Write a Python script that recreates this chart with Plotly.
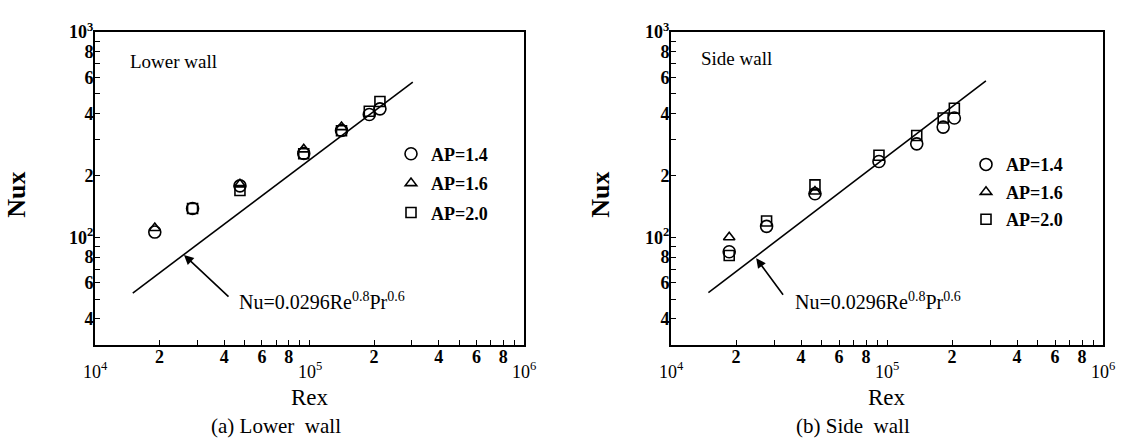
import math
import plotly.graph_objects as go

# ---------------- data ----------------
# (a) Lower wall
low_re_14 = [1.90e4, 2.85e4, 4.74e4, 9.40e4, 1.41e5, 1.90e5, 2.13e5]
low_nu_14 = [106, 138, 178, 256, 331, 396, 422]
low_re_16 = [1.90e4, 4.74e4, 9.40e4, 1.41e5]
low_nu_16 = [111, 181, 268, 344]
low_re_20 = [2.85e4, 4.74e4, 9.40e4, 1.41e5, 1.90e5, 2.13e5]
low_nu_20 = [138, 169, 255, 330, 411, 458]
low_line_re = [1.50e4, 3.03e5]
low_line_nu = [53.5, 570]

# (b) Side wall
side_re_14 = [1.86e4, 2.77e4, 4.64e4, 9.18e4, 1.373e5, 1.82e5, 2.05e5]
side_nu_14 = [85, 113, 163, 234, 285, 344, 381]
side_re_16 = [1.86e4, 4.64e4]
side_nu_16 = [100, 167]
side_re_20 = [1.86e4, 2.77e4, 4.64e4, 9.18e4, 1.373e5, 1.82e5, 2.05e5]
side_nu_20 = [81.5, 120, 180, 251, 313, 381, 425]
side_line_re = [1.49e4, 2.87e5]
side_line_nu = [53.7, 577]

legend_labels = ["AP=1.4", "AP=1.6", "AP=2.0"]
panel_titles = ["Lower wall", "Side wall"]
captions = ["(a) Lower  wall", "(b) Side  wall"]
formula = "Nu=0.0296Re<sup>0.8</sup>Pr<sup>0.6</sup>"

x_tickvals = [1e4, 2e4, 4e4, 6e4, 8e4, 1e5, 2e5, 4e5, 6e5, 8e5, 1e6]
x_ticktext = ["", "2", "4", "6", "8", "", "2", "4", "6", "8", ""]
x_minor = [3e4, 5e4, 7e4, 9e4, 3e5, 5e5, 7e5, 9e5]
x_decades = [1e4, 1e5, 1e6]
x_decade_text = ["10<sup>4</sup>", "10<sup>5</sup>", "10<sup>6</sup>"]
y_tickvals = [40, 60, 80, 100, 200, 400, 600, 800, 1000]
y_ticktext = ["4", "6", "8", "10<sup>2</sup>", "2", "4", "6", "8", "10<sup>3</sup>"]
y_minor = [50, 70, 90, 300, 500, 700, 900]

# annotation anchors (data values)
title_pos = [(1.43e4, 721), (1.35e4, 746)]
formula_pos = [(4.59e4, 49.2), (3.67e4, 49.2)]
arrow_tip = [(2.6e4, 82), (2.48e4, 79)]
arrow_tail_px = [(46, 43), (28, 38)]

SERIF = "Liberation Serif"
W, H = 1128, 439
L = math.log10

fig = go.Figure()

panels = [
    dict(xa="x", ya="y", leg="legend",
         s=[(low_re_14, low_nu_14), (low_re_16, low_nu_16), (low_re_20, low_nu_20)],
         line=(low_line_re, low_line_nu)),
    dict(xa="x2", ya="y2", leg="legend2",
         s=[(side_re_14, side_nu_14), (side_re_16, side_nu_16), (side_re_20, side_nu_20)],
         line=(side_line_re, side_line_nu)),
]
symbols = ["circle-open", "triangle-up-open", "square-open"]
sizes = [12, 10, 10]

for p in panels:
    fig.add_trace(go.Scatter(x=p["line"][0], y=p["line"][1], mode="lines",
                             line=dict(color="black", width=1.6),
                             xaxis=p["xa"], yaxis=p["ya"], showlegend=False,
                             hoverinfo="skip"))
    for k, (xs, ys) in enumerate(p["s"]):
        fig.add_trace(go.Scatter(x=xs, y=ys, mode="markers", name=legend_labels[k],
                                 marker=dict(symbol=symbols[k], size=sizes[k], color="black",
                                             line=dict(color="black", width=1.6)),
                                 xaxis=p["xa"], yaxis=p["ya"], legend=p["leg"],
                                 legendgroup=p["leg"] + str(k)))

xdom = [[95 / W, 524 / W], [671 / W, 1103 / W]]
ydom = [1 - 342 / H, 1 - 20.5 / H]

axis_common = dict(type="log", showgrid=False, zeroline=False, showline=True,
                   linecolor="black", linewidth=2, mirror=True, ticks="inside",
                   ticklen=5, tickwidth=1.3, tickcolor="black",
                   tickfont=dict(family=SERIF, size=18, color="black", weight="bold"))

for i, suf in enumerate(["", "2"]):
    fig.layout["xaxis" + suf] = dict(axis_common, domain=xdom[i], range=[4, 6],
                                      tickmode="array", tickvals=x_tickvals, ticktext=x_ticktext,
                                      minor=dict(tickmode="array", tickvals=x_minor, ticks="inside",
                                                 ticklen=5, tickcolor="black", tickwidth=1.3),
                                      ticklabelstandoff=-5,
                                      anchor="y" + suf)
    fig.layout["yaxis" + suf] = dict(axis_common, domain=ydom, range=[1.477, 3],
                                      tickmode="array", tickvals=y_tickvals, ticktext=y_ticktext,
                                      minor=dict(tickmode="array", tickvals=y_minor, ticks="inside",
                                                 ticklen=5, tickcolor="black", tickwidth=1.3),
                                      ticklabelstandoff=-4,
                                      anchor="x" + suf)

nux_offset = [78, 70]
ann = []
for i, suf in enumerate(["", "2"]):
    xr, yr = "x" + suf, "y" + suf
    for dv, dt in zip(x_decades, x_decade_text):
        ann.append(dict(x=L(dv), y=1 - 369 / H, xref=xr, yref="paper", text=dt, showarrow=False,
                        xanchor="center", yanchor="middle",
                        font=dict(family=SERIF, size=18, color="black")))
    ann.append(dict(x=L(title_pos[i][0]), y=L(title_pos[i][1]), xref=xr, yref=yr,
                    text=panel_titles[i], showarrow=False, xanchor="left", yanchor="middle",
                    font=dict(family=SERIF, size=19, color="black")))
    tx, ty = arrow_tip[i]
    ax, ay = arrow_tail_px[i]
    ann.append(dict(x=L(tx), y=L(ty), xref=xr, yref=yr, text="", showarrow=True, ax=ax, ay=ay,
                    arrowhead=2, arrowsize=1.2, arrowwidth=1.6, arrowcolor="black", standoff=0))
    ann.append(dict(x=L(formula_pos[i][0]), y=L(formula_pos[i][1]), xref=xr, yref=yr,
                    text=formula, showarrow=False, xanchor="left", yanchor="middle",
                    font=dict(family=SERIF, size=20, color="black")))
    xc = (xdom[i][0] + xdom[i][1]) / 2
    ann.append(dict(x=xc, y=1 - 396 / H, xref="paper", yref="paper", text="Rex", showarrow=False,
                    xanchor="center", yanchor="middle",
                    font=dict(family=SERIF, size=23, color="black")))
    ann.append(dict(x=xc - 0.03, y=1 - 426 / H, xref="paper", yref="paper", text=captions[i],
                    showarrow=False, xanchor="center", yanchor="middle",
                    font=dict(family=SERIF, size=21, color="black")))
    ann.append(dict(x=(xdom[i][0] * W - nux_offset[i]) / W, y=1 - 188 / H, xref="paper",
                    yref="paper", text="Nux", textangle=-90, showarrow=False,
                    xanchor="center", yanchor="middle",
                    font=dict(family=SERIF, size=26, color="black", weight="bold")))

legend_common = dict(font=dict(family=SERIF, size=18, color="black", weight="bold"),
                     bgcolor="rgba(0,0,0,0)", itemsizing="trace",
                     xanchor="left", yanchor="top")
fig.update_layout(
    width=W, height=H, margin=dict(l=0, r=0, t=0, b=0),
    paper_bgcolor="white", plot_bgcolor="white",
    annotations=ann,
    legend=dict(legend_common, x=391 / W, y=1 - 127 / H, tracegroupgap=3),
    legend2=dict(legend_common, x=966 / W, y=1 - 138 / H, tracegroupgap=1),
)

fig.write_html("out.html", config={"displayModeBar": False},
               post_script="document.body.style.margin='0px';")
